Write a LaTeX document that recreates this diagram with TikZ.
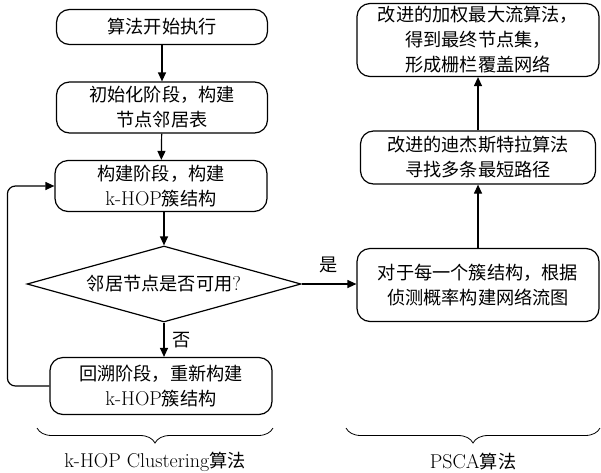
\documentclass[tikz,border=0pt]{standalone}
\usepackage{fontspec}
\newfontfamily\cjk[Scale=0.91]{Noto Sans CJK SC}
\usetikzlibrary{shapes.geometric,arrows.meta,decorations.pathreplacing}
\begin{document}
\begin{tikzpicture}[x=1pt,y=-1pt,
  font=\fontsize{20}{25}\selectfont,
  box/.style={draw, line width=1.2pt, rounded corners=13pt, align=center, inner sep=0pt},
  dia/.style={draw, line width=1.2pt, diamond, aspect=3.6, inner sep=1pt, minimum width=274pt, minimum height=76pt},
  arr/.style={line width=1.2pt, -{Triangle[length=9pt,width=8pt]}},
  brc/.style={line width=0.8pt, decorate, decoration={brace, mirror, amplitude=15pt}},
  lbl/.style={inner sep=0pt}]
\useasboundingbox (0,0) rectangle (601,472);
% left column
\node[box, minimum width=211pt, minimum height=35pt] (b1) at (162,27) {\cjk 算法开始执行};
\node[box, minimum width=211pt, minimum height=51pt] (b2) at (162,107.5) {\cjk 初始化阶段，构建\\\cjk 节点邻居表};
\node[box, minimum width=212pt, minimum height=51pt] (b3) at (161,186) {\cjk 构建阶段，构建\\k-HOP{\cjk 簇结构}};
\node[dia] (d) at (164,284) {{\cjk 邻居节点是否可用}?};
\node[box, minimum width=222pt, minimum height=57pt] (b4) at (161,386) {\cjk 回溯阶段，重新构建\\k-HOP{\cjk 簇结构}};
% right column
\node[box, minimum width=242pt, minimum height=73pt] (r1) at (478,40) {\cjk 改进的加权最大流算法，\\\cjk 得到最终节点集，\\\cjk 形成栅栏覆盖网络};
\node[box, minimum width=235pt, minimum height=53pt] (r2) at (478,157.5) {\cjk 改进的迪杰斯特拉算法\\\cjk 寻找多条最短路径};
\node[box, minimum width=242pt, minimum height=73pt] (r3) at (478,285) {\cjk 对于每一个簇结构，根据\\\cjk 侦测概率构建网络流图};
% connectors
\draw[arr] (b1) -- (b2);
\draw[arr] (b2) -- (b3);
\draw[arr] (b3.south -| d.north) -- (d.north);
\draw[arr] (d.south) -- node[lbl, right=8pt] {\cjk 否} (d.south |- b4.north);
\draw[arr] (d.east) -- node[lbl, above=10pt] {\cjk 是} (d.east -| r3.west);
\draw[arr, rounded corners=8pt] (b4.west) -- ++(-42,0) |- (b3.west);
\draw[arr] (r3.north -| r2.south) -- (r2.south);
\draw[arr] (r2.north) -- (r2.north |- r1.south);
% braces
\coordinate (la) at (37,428);
\coordinate (lb) at (273,428);
\coordinate (ra) at (346,428);
\coordinate (rb) at (600,428);
\draw[brc] (la) -- (lb);
\draw[brc] (ra) -- (rb);
\node[lbl] (tl) at (155,462) {k-HOP Clustering{\cjk 算法}};
\node[lbl] (tr) at (473,462) {PSCA{\cjk 算法}};
\end{tikzpicture}
\end{document}
